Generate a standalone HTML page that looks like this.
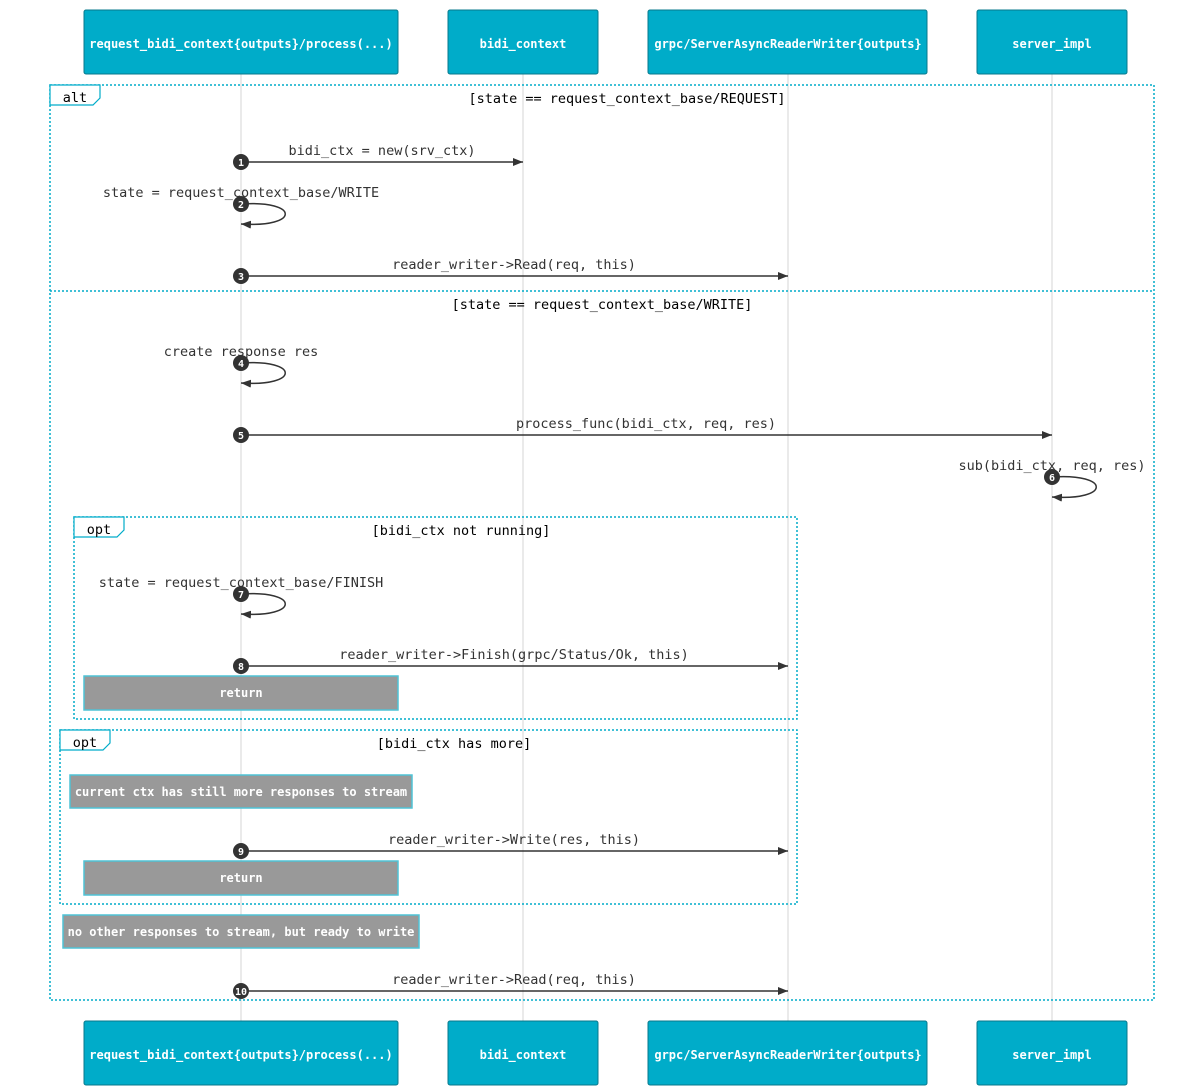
<!DOCTYPE html>
<html><head><meta charset="utf-8"><style>
html,body{margin:0;padding:0;background:#fff;}
svg{display:block}
text{font-family:"DejaVu Sans Mono","Liberation Mono",monospace;}
.h{fill:#fff;font-size:12px;font-weight:bold;text-anchor:middle}
.m{fill:#333;font-size:13.5px;text-anchor:middle}
.n{fill:#fff;font-size:10px;font-weight:bold;text-anchor:middle}
.w{fill:#fff;font-size:12px;font-weight:bold;text-anchor:middle}
</style></head><body>
<svg width="1204" height="1087" viewBox="0 0 1204 1087" xmlns="http://www.w3.org/2000/svg">
<defs>
<marker id="a" markerWidth="10" markerHeight="8" refX="10" refY="4" orient="auto" markerUnits="userSpaceOnUse"><path d="M0,0 L10,4 L0,8 z" fill="#333"/></marker>
</defs>
<!-- lifelines -->
<g stroke="#ddd" stroke-width="1.2">
<line x1="241" y1="74" x2="241" y2="1021"/>
<line x1="523" y1="74" x2="523" y2="1021"/>
<line x1="788" y1="74" x2="788" y2="1021"/>
<line x1="1052" y1="74" x2="1052" y2="1021"/>
</g>
<!-- headers -->
<g fill="#00acc9" stroke="#08798c" stroke-width="1">
<rect x="84" y="10" width="314" height="64" rx="2"/>
<rect x="448" y="10" width="150" height="64" rx="2"/>
<rect x="648" y="10" width="279" height="64" rx="2"/>
<rect x="977" y="10" width="150" height="64" rx="2"/>
<rect x="84" y="1021" width="314" height="64" rx="2"/>
<rect x="448" y="1021" width="150" height="64" rx="2"/>
<rect x="648" y="1021" width="279" height="64" rx="2"/>
<rect x="977" y="1021" width="150" height="64" rx="2"/>
</g>
<text class="h" x="241" y="48">request_bidi_context{outputs}/process(...)</text>
<text class="h" x="523" y="48">bidi_context</text>
<text class="h" x="788" y="48">grpc/ServerAsyncReaderWriter{outputs}</text>
<text class="h" x="1052" y="48">server_impl</text>
<text class="h" x="241" y="1059">request_bidi_context{outputs}/process(...)</text>
<text class="h" x="523" y="1059">bidi_context</text>
<text class="h" x="788" y="1059">grpc/ServerAsyncReaderWriter{outputs}</text>
<text class="h" x="1052" y="1059">server_impl</text>
<!-- frames -->
<g fill="none" stroke="#00acc9" stroke-width="1.5" stroke-dasharray="2,2">
<rect x="50" y="85" width="1104" height="915"/>
<line x1="50" y1="291" x2="1154" y2="291"/>
<rect x="74" y="517" width="723" height="202"/>
<rect x="60" y="730" width="737" height="174"/>
</g>
<g fill="#fff" stroke="#00acc9" stroke-width="1.2">
<path d="M50,85 H100 V98 L93,105 H50 z"/>
<path d="M74,517 H124 V530 L117,537 H74 z"/>
<path d="M60,730 H110 V743 L103,750 H60 z"/>
</g>
<text class="m" x="75" y="102" fill="#000" style="fill:#000">alt</text>
<text class="m" x="99" y="534" style="fill:#000">opt</text>
<text class="m" x="85" y="747" style="fill:#000">opt</text>
<text class="m" x="627" y="103" style="fill:#000">[state == request_context_base/REQUEST]</text>
<text class="m" x="602" y="309" style="fill:#000">[state == request_context_base/WRITE]</text>
<text class="m" x="461" y="535" style="fill:#000">[bidi_ctx not running]</text>
<text class="m" x="454" y="748" style="fill:#000">[bidi_ctx has more]</text>
<!-- messages -->
<g stroke="#333" stroke-width="1.5" fill="none">
<line x1="241" y1="162" x2="523" y2="162" marker-end="url(#a)"/>
<path d="M241,204 C300,200 300,228 241,224" marker-end="url(#a)"/>
<line x1="241" y1="276" x2="788" y2="276" marker-end="url(#a)"/>
<path d="M241,363 C300,359 300,387 241,383" marker-end="url(#a)"/>
<line x1="241" y1="435" x2="1052" y2="435" marker-end="url(#a)"/>
<path d="M1052,477 C1111,473 1111,501 1052,497" marker-end="url(#a)"/>
<path d="M241,594 C300,590 300,618 241,614" marker-end="url(#a)"/>
<line x1="241" y1="666" x2="788" y2="666" marker-end="url(#a)"/>
<line x1="241" y1="851" x2="788" y2="851" marker-end="url(#a)"/>
<line x1="241" y1="991" x2="788" y2="991" marker-end="url(#a)"/>
</g>
<text class="m" x="382" y="155">bidi_ctx = new(srv_ctx)</text>
<text class="m" x="241" y="197">state = request_context_base/WRITE</text>
<text class="m" x="514" y="269">reader_writer-&gt;Read(req, this)</text>
<text class="m" x="241" y="356">create response res</text>
<text class="m" x="646" y="428">process_func(bidi_ctx, req, res)</text>
<text class="m" x="1052" y="470">sub(bidi_ctx, req, res)</text>
<text class="m" x="241" y="587">state = request_context_base/FINISH</text>
<text class="m" x="514" y="659">reader_writer-&gt;Finish(grpc/Status/Ok, this)</text>
<text class="m" x="514" y="844">reader_writer-&gt;Write(res, this)</text>
<text class="m" x="514" y="984">reader_writer-&gt;Read(req, this)</text>
<!-- numbers -->
<g fill="#333">
<circle cx="241" cy="162" r="8"/><circle cx="241" cy="204" r="8"/><circle cx="241" cy="276" r="8"/>
<circle cx="241" cy="363" r="8"/><circle cx="241" cy="435" r="8"/><circle cx="1052" cy="477" r="8"/>
<circle cx="241" cy="594" r="8"/><circle cx="241" cy="666" r="8"/><circle cx="241" cy="851" r="8"/>
<circle cx="241" cy="991" r="8"/>
</g>
<text class="n" x="241" y="166">1</text><text class="n" x="241" y="208">2</text><text class="n" x="241" y="280">3</text>
<text class="n" x="241" y="367">4</text><text class="n" x="241" y="439">5</text><text class="n" x="1052" y="481">6</text>
<text class="n" x="241" y="598">7</text><text class="n" x="241" y="670">8</text><text class="n" x="241" y="855">9</text>
<text class="n" x="241" y="995">10</text>
<!-- notes -->
<g fill="#999" stroke="#4fc3d6" stroke-width="1.5">
<rect x="84" y="676" width="314" height="34"/>
<rect x="70" y="775" width="342" height="33"/>
<rect x="84" y="861" width="314" height="34"/>
<rect x="63" y="915" width="356" height="33"/>
</g>
<text class="w" x="241" y="697">return</text>
<text class="w" x="241" y="796">current ctx has still more responses to stream</text>
<text class="w" x="241" y="882">return</text>
<text class="w" x="241" y="936">no other responses to stream, but ready to write</text>
</svg>
</body></html>
